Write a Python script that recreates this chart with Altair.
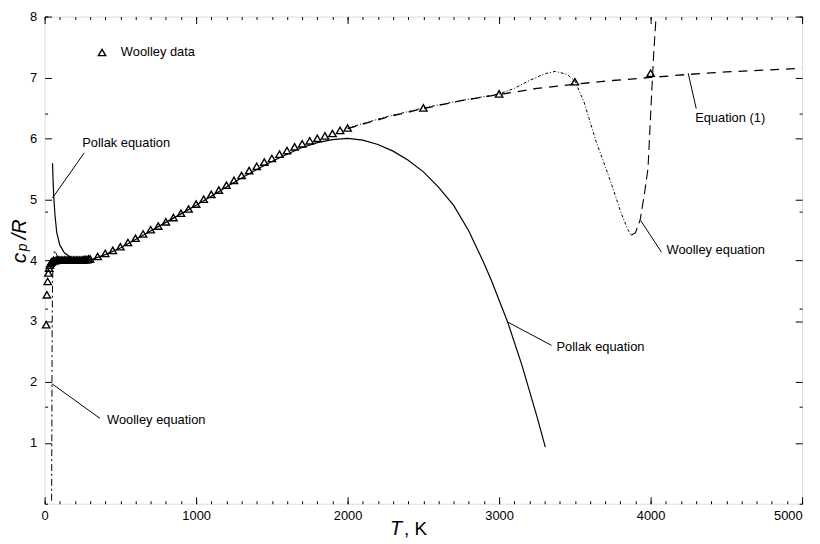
import altair as alt
import pandas as pd

# ---------------- data ----------------
wd_T = [10, 15, 20, 25, 30, 35, 40, 45, 50, 60, 70, 80, 90, 100, 110, 120, 130, 140, 150,
        160, 170, 180, 190, 200, 210, 220, 230, 240, 250, 260, 270, 280, 290, 300,
        350, 400, 450, 500, 550, 600, 650, 700, 750, 800, 850, 900, 950, 1000,
        1050, 1100, 1150, 1200, 1250, 1300, 1350, 1400, 1450, 1500, 1550, 1600,
        1650, 1700, 1750, 1800, 1850, 1900, 1950, 2000, 2500, 3000, 3500, 4000]
wd_cp = [2.94, 3.43, 3.65, 3.79, 3.87, 3.92, 3.95, 3.97, 3.98, 3.99, 3.99, 4.00, 4.00, 4.00,
         4.00, 4.00, 4.00, 4.00, 4.00, 4.00, 4.00, 4.00, 4.00, 4.00, 4.00, 4.00, 4.00, 4.00,
         4.00, 4.01, 4.01, 4.01, 4.02, 4.02,
         4.06, 4.11, 4.16, 4.22, 4.29, 4.36, 4.43, 4.50, 4.56, 4.63, 4.70, 4.77, 4.84, 4.92,
         5.00, 5.08, 5.15, 5.23, 5.31, 5.39, 5.47, 5.54, 5.61, 5.67, 5.74, 5.80,
         5.86, 5.91, 5.96, 6.00, 6.04, 6.08, 6.13, 6.17, 6.50, 6.73, 6.93, 7.07]

pollak_T = [52, 56, 60, 68, 80, 100, 130, 170, 220, 300, 400, 500, 600, 700, 800, 900, 1000,
            1100, 1200, 1300, 1400, 1500, 1600, 1700, 1800, 1900, 2000, 2100, 2200, 2300,
            2400, 2500, 2600, 2700, 2800, 2900, 2950, 3000, 3057, 3150, 3250, 3305]
pollak_cp = [5.59, 5.30, 5.05, 4.75, 4.45, 4.25, 4.12, 4.05, 4.01, 4.00, 4.09, 4.20, 4.34,
             4.48, 4.62, 4.76, 4.90, 5.05, 5.20, 5.35, 5.49, 5.62, 5.74, 5.85, 5.93, 5.98,
             6.00, 5.97, 5.90, 5.79, 5.64, 5.45, 5.20, 4.90, 4.48, 3.95, 3.66, 3.34, 2.98,
             2.28, 1.43, 0.93]

eq1_T = [2000, 2250, 2500, 2750, 3000, 3250, 3500, 3750, 4000, 4250, 4500, 4750, 5000]
eq1_cp = [6.16, 6.34, 6.49, 6.62, 6.72, 6.82, 6.89, 6.95, 7.00, 7.05, 7.09, 7.12, 7.15]

woolley_lo_T = [46, 47.5, 48.5, 50, 52, 56, 62, 68, 77, 92, 120]
woolley_lo_cp = [0.05, 1.0, 2.0, 3.0, 3.6, 3.95, 4.12, 4.16, 4.10, 4.03, 4.00]

woolley_hi_T = [2000, 2250, 2500, 2750, 3000, 3100, 3200, 3300, 3370, 3450, 3500, 3560,
                3640, 3735, 3807, 3850, 3872]
woolley_hi_cp = [6.17, 6.35, 6.50, 6.62, 6.73, 6.82, 6.95, 7.06, 7.10, 7.05, 6.94, 6.60,
                 5.95, 5.30, 4.76, 4.50, 4.41]

woolley_up_T = [3872, 3900, 3930, 3960, 3983, 4002, 4022, 4035]
woolley_up_cp = [4.41, 4.45, 4.65, 5.10, 5.51, 6.49, 7.46, 7.95]

# annotations: label text, label anchor, leader start, leader end (data units)
ann_text = ["Pollak equation", "Woolley equation", "Pollak equation", "Woolley equation", "Equation (1)"]
ann_T = [248, 412, 3379, 4105, 4294]
ann_cp = [5.92, 1.38, 2.57, 4.16, 6.33]
lead_T1 = [52, 48, 3059, 3935, 4248]
lead_cp1 = [5.02, 1.97, 2.98, 4.65, 7.07]
lead_T2 = [261, 366, 3346, 4072, 4301]
lead_cp2 = [5.76, 1.40, 2.60, 4.13, 6.49]

legend_T = [379]
legend_cp = [7.41]
legend_label_T = [503]
legend_label = ["Woolley data"]

x_major = [0, 1000, 2000, 3000, 4000, 5000]
y_major = [1, 2, 3, 4, 5, 6, 7, 8]
x_minor = list(range(0, 5001, 100))
y_minor = [round(i * 0.1, 1) for i in range(0, 81)]

# ---------------- chart ----------------
FONT = "Liberation Sans"
xs = alt.Scale(domain=[0, 5000], nice=False, zero=False)
ys = alt.Scale(domain=[0, 8], nice=False, zero=False)

wd = pd.DataFrame({"T": wd_T, "cp": wd_cp})
dummy = pd.DataFrame({"T": [0, 5000], "cp": [0, 8]})


def tick_layer(xorient, yorient, xvals, yvals, size, labels):
    return alt.Chart(dummy).mark_point(opacity=0).encode(
        x=alt.X("T:Q", scale=xs, axis=alt.Axis(
            orient=xorient, values=xvals, offset=-size, tickSize=size, tickWidth=1,
            tickColor="black", domain=False, labels=labels, labelPadding=6,
            labelAlign=alt.ExprRef("datum.value == 5000 ? 'right' : 'center'"),
            title=None, grid=False,
            labelFont=FONT, labelFontSize=13, labelColor="black", format="d")),
        y=alt.Y("cp:Q", scale=ys, axis=alt.Axis(
            orient=yorient, values=yvals, offset=-size, tickSize=size, tickWidth=1,
            tickColor="black", domain=False, labels=labels, labelPadding=8,
            title=None, grid=False, labelFont=FONT, labelFontSize=13,
            labelColor="black", format="d")),
    )


ticks = [
    tick_layer("bottom", "left", x_major, y_major, 7, True),
    tick_layer("bottom", "left", x_minor, y_minor, 3, False),
    tick_layer("top", "right", x_major, y_major, 7, False),
    tick_layer("top", "right", x_minor, y_minor, 3, False),
]


def line(T, cp, dash, width=1.2):
    df = pd.DataFrame({"T": T, "cp": cp, "i": list(range(len(T)))})
    kw = {"color": "black", "strokeWidth": width, "clip": True}
    if dash:
        kw["strokeDash"] = dash
    return alt.Chart(df).mark_line(**kw).encode(
        x=alt.X("T:Q", scale=xs, axis=None),
        y=alt.Y("cp:Q", scale=ys, axis=None),
        order="i:Q",
    )


lines = [
    line(pollak_T, pollak_cp, None, 1.2),
    line(eq1_T, eq1_cp, [9, 7], 1.3),
    line(woolley_hi_T, woolley_hi_cp, [3, 2, 1, 2], 1.0),
    line(woolley_up_T, woolley_up_cp, [10, 5], 1.1),
    line(woolley_lo_T, woolley_lo_cp, [7, 3, 2, 3], 1.0),
]

points = alt.Chart(wd).mark_point(shape="triangle-up", filled=False, color="black",
                                  size=55, strokeWidth=1.4, opacity=1).encode(
    x=alt.X("T:Q", scale=xs, axis=None),
    y=alt.Y("cp:Q", scale=ys, axis=None),
)

legend_pt = alt.Chart(pd.DataFrame({"T": legend_T, "cp": legend_cp})).mark_point(
    shape="triangle-up", filled=False, color="black", size=55, strokeWidth=1.4, opacity=1
).encode(x=alt.X("T:Q", scale=xs, axis=None), y=alt.Y("cp:Q", scale=ys, axis=None))

legend_txt = alt.Chart(pd.DataFrame({"T": legend_label_T, "cp": legend_cp, "t": legend_label})).mark_text(
    align="left", baseline="middle", font=FONT, fontSize=13, color="black"
).encode(x=alt.X("T:Q", scale=xs, axis=None), y=alt.Y("cp:Q", scale=ys, axis=None), text="t:N")

leaders = alt.Chart(pd.DataFrame({"T1": lead_T1, "c1": lead_cp1, "T2": lead_T2, "c2": lead_cp2})).mark_rule(
    color="black", strokeWidth=1
).encode(
    x=alt.X("T1:Q", scale=xs, axis=None), y=alt.Y("c1:Q", scale=ys, axis=None),
    x2="T2:Q", y2="c2:Q",
)

labels = alt.Chart(pd.DataFrame({"T": ann_T, "cp": ann_cp, "t": ann_text})).mark_text(
    align="left", baseline="middle", font=FONT, fontSize=13, color="black"
).encode(x=alt.X("T:Q", scale=xs, axis=None), y=alt.Y("cp:Q", scale=ys, axis=None), text="t:N")


# axis titles as text
def txt(s, x, y, size, style="normal", angle=0, align="center"):
    return alt.Chart(pd.DataFrame({"a": [0]})).mark_text(
        text=s, font=FONT, fontSize=size, fontStyle=style, angle=angle, align=align,
        baseline="middle", color="black"
    ).encode(x=alt.value(x), y=alt.value(y))


titles = [
    txt("c", -25, 244, 21, "italic", angle=270),
    txt("p", -22, 233, 14, "italic", angle=270),
    txt("/R", -25, 215, 20, "italic", angle=270),
    txt("T", 361, 518, 20, "italic", align="right"),
    txt(", K", 363, 518, 19, align="left"),
]

chart = alt.layer(*ticks, *lines, points, legend_pt, legend_txt, leaders, labels, *titles).resolve_axis(
    x="independent", y="independent"
).properties(
    width=765, height=492,
    autosize=alt.AutoSizeParams(type="none"),
    padding={"left": 37, "top": 6, "right": 10, "bottom": 34},
).configure_view(stroke="black", strokeWidth=1.6).configure(background="white")

chart.save("out.html", embed_options={"renderer": "svg", "actions": False})
